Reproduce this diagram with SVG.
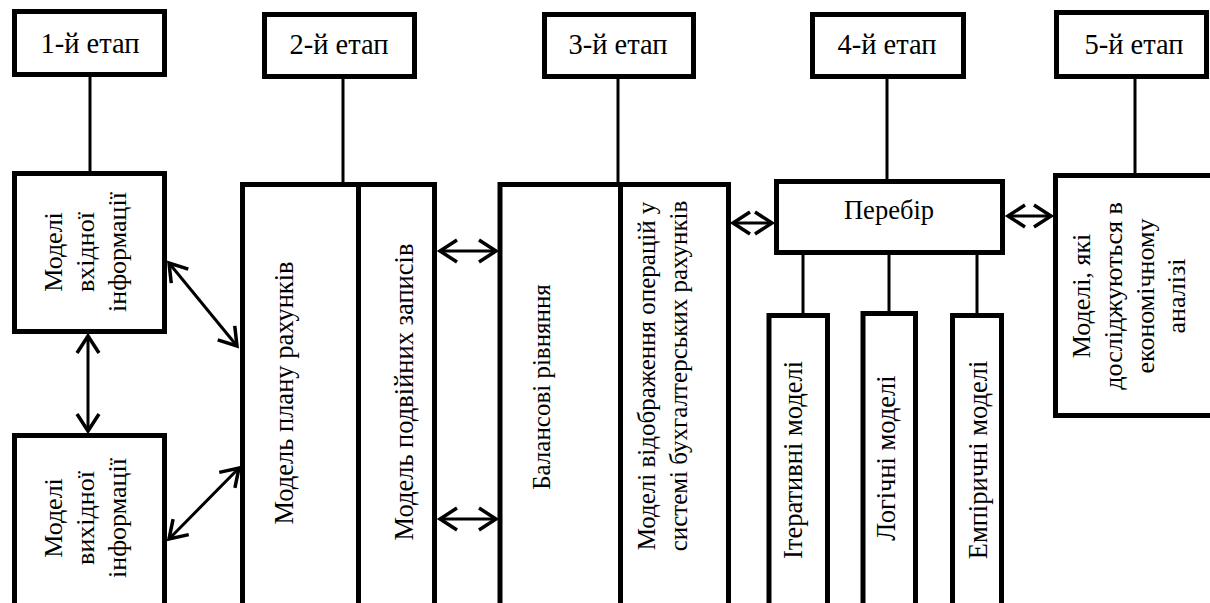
<svg xmlns="http://www.w3.org/2000/svg" width="1210" height="603" viewBox="0 0 1210 603">
<style>
.box{fill:#fff;stroke:#000;stroke-width:5}
.ln{stroke:#000;stroke-width:3;fill:none}
.ar{stroke:#000;stroke-width:3;fill:none;marker-start:url(#ah);marker-end:url(#ah)}
.t{font-family:'Liberation Serif','Times New Roman',serif;font-size:26.5px;fill:#000;text-anchor:middle}
.s{font-size:28.5px}
.m{font-size:26px}
.n{font-size:25px}
</style>
<defs>
<marker id="ah" viewBox="-22 -14 26 28" markerWidth="26" markerHeight="28" refX="0" refY="0" orient="auto-start-reverse" markerUnits="userSpaceOnUse">
<path d="M-17,-11 L0,0 L-17,11" fill="none" stroke="#000" stroke-width="3.5"/>
</marker>
</defs>
<rect width="1210" height="603" fill="#fff"/>
<g id="connectors">
<line class="ln" x1="90" y1="77" x2="90" y2="172"/>
<line class="ln" x1="343" y1="79" x2="343" y2="183"/>
<line class="ln" x1="618" y1="79" x2="618" y2="183"/>
<line class="ln" x1="887" y1="79" x2="887" y2="180"/>
<line class="ln" x1="1135" y1="79" x2="1135" y2="174"/>
<line class="ln" x1="803" y1="255" x2="803" y2="314"/>
<line class="ln" x1="889" y1="255" x2="889" y2="312"/>
<line class="ln" x1="977" y1="255" x2="977" y2="314"/>
<line class="ar" x1="88" y1="336" x2="88" y2="431"/>
<line class="ar" x1="169" y1="263" x2="237" y2="346"/>
<line class="ar" x1="169" y1="539" x2="239" y2="468"/>
<line class="ar" x1="440" y1="251" x2="496" y2="251"/>
<line class="ar" x1="440" y1="519" x2="496" y2="519"/>
<line class="ar" x1="733" y1="223" x2="772" y2="223"/>
<line class="ar" x1="1008" y1="216" x2="1051" y2="216"/>
</g>
<g id="stage1"><rect class="box" x="14.5" y="11.5" width="150" height="63"/><text class="t s" x="90" y="53">1-й етап</text></g>
<g id="stage2"><rect class="box" x="264.5" y="14.5" width="150" height="62"/><text class="t s" x="339" y="54">2-й етап</text></g>
<g id="stage3"><rect class="box" x="544.5" y="14.5" width="149" height="62"/><text class="t s" x="618" y="54">3-й етап</text></g>
<g id="stage4"><rect class="box" x="812.5" y="14.5" width="151" height="62"/><text class="t s" x="887" y="54">4-й етап</text></g>
<g id="stage5"><rect class="box" x="1056.5" y="12.5" width="150" height="64"/><text class="t s" x="1134" y="54">5-й етап</text></g>
<g id="input-models"><rect class="box" x="14.5" y="173.5" width="150" height="158"/>
<text class="t m" transform="translate(0,252) rotate(-90)"><tspan x="0" y="62">Моделі</tspan><tspan x="0" y="94">вхідної</tspan><tspan x="0" y="126">інформації</tspan></text></g>
<g id="output-models"><rect class="box" x="14.5" y="435.5" width="150" height="180"/>
<text class="t m" transform="translate(0,518) rotate(-90)"><tspan x="0" y="62">Моделі</tspan><tspan x="0" y="94">вихідної</tspan><tspan x="0" y="126">інформації</tspan></text></g>
<g id="chart-of-accounts"><rect class="box" x="242.5" y="184.5" width="116" height="430"/>
<text class="t" transform="translate(293,393) rotate(-90)" x="0" y="0">Модель плану рахунків</text></g>
<g id="double-entry"><rect class="box" x="358.5" y="184.5" width="76" height="430"/>
<text class="t" transform="translate(413,392) rotate(-90)" x="0" y="0">Модель подвійних записів</text></g>
<g id="balance-eq"><rect class="box" x="500" y="184.5" width="120.5" height="430"/>
<text class="t n" transform="translate(550,387) rotate(-90)" x="0" y="0">Балансові рівняння</text></g>
<g id="reflection-models"><rect class="box" x="620.5" y="184.5" width="108" height="430"/>
<text class="t n" transform="translate(0,376) rotate(-90)"><tspan x="0" y="655">Моделі відображення операцій у</tspan><tspan x="0" y="687">системі бухгалтерських рахунків</tspan></text></g>
<g id="search"><rect class="box" x="776.5" y="181.5" width="226" height="71"/><text class="t" x="889" y="219">Перебір</text></g>
<g id="iterative"><rect class="box" x="769" y="315.5" width="58.5" height="300"/>
<text class="t" transform="translate(802,460) rotate(-90)" x="0" y="0">Ітеративні моделі</text></g>
<g id="logical"><rect class="box" x="863" y="313.5" width="52.5" height="300"/>
<text class="t" transform="translate(895,458) rotate(-90)" x="0" y="0">Логічні моделі</text></g>
<g id="empirical"><rect class="box" x="952.5" y="315.5" width="49" height="300"/>
<text class="t" transform="translate(987,460) rotate(-90)" x="0" y="0">Емпіричні моделі</text></g>
<g id="econ-analysis"><rect class="box" x="1055.5" y="175.5" width="170" height="240"/>
<text class="t m" transform="translate(0,296) rotate(-90)"><tspan x="0" y="1090">Моделі, які</tspan><tspan x="0" y="1122">досліджуються в</tspan><tspan x="0" y="1154">економічному</tspan><tspan x="0" y="1185">аналізі</tspan></text></g>
</svg>
